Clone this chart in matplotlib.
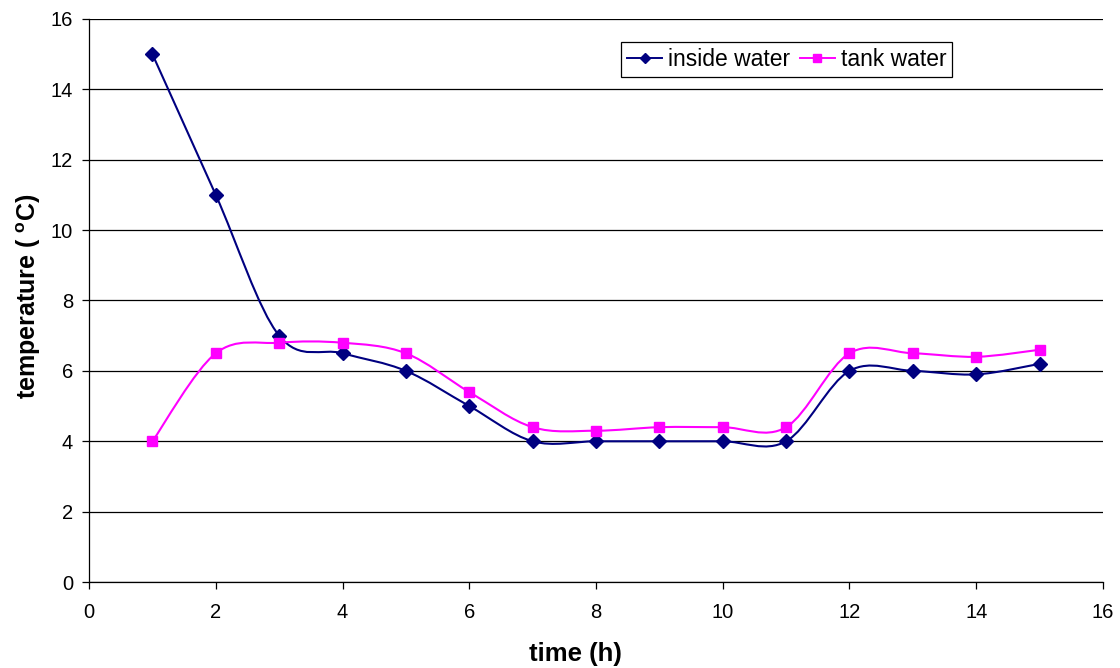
import matplotlib
matplotlib.use('Agg')
import matplotlib.pyplot as plt
from matplotlib.path import Path
from matplotlib.patches import PathPatch
import numpy as np

plt.rcParams['font.family'] = ['Liberation Sans', 'DejaVu Sans']
plt.rcParams['mathtext.fontset'] = 'custom'
plt.rcParams['mathtext.rm'] = 'Liberation Sans'
plt.rcParams['mathtext.bf'] = 'Liberation Sans:bold'

# Data
hours = [1, 2, 3, 4, 5, 6, 7, 8, 9, 10, 11, 12, 13, 14, 15]
inside_water = [15, 11, 7, 6.5, 6, 5, 4, 4, 4, 4, 4, 6, 6, 5.9, 6.2]
tank_water = [4, 6.5, 6.8, 6.8, 6.5, 5.4, 4.4, 4.3, 4.4, 4.4, 4.4, 6.5, 6.5, 6.4, 6.6]


def smooth_path(x, y):
    # Excel-like smoothed line: cubic Bezier segments (Catmull-Rom control points)
    x = np.asarray(x, float)
    y = np.asarray(y, float)
    px = np.concatenate([[x[0]], x, [x[-1]]])
    py = np.concatenate([[y[0]], y, [y[-1]]])
    verts = [(x[0], y[0])]
    codes = [Path.MOVETO]
    for i in range(1, len(px) - 2):
        c1 = (px[i] + (px[i + 1] - px[i - 1]) / 6, py[i] + (py[i + 1] - py[i - 1]) / 6)
        c2 = (px[i + 1] - (px[i + 2] - px[i]) / 6, py[i + 1] - (py[i + 2] - py[i]) / 6)
        verts += [c1, c2, (px[i + 1], py[i + 1])]
        codes += [Path.CURVE4] * 3
    return Path(verts, codes)


fig = plt.figure(figsize=(11.2, 6.68), dpi=100)
ax = fig.add_axes([0.0795, 0.1287, 0.9053, 0.8429])

series = [
    (inside_water, '#000080', 'D', 7, 'inside water'),
    (tank_water, '#FF00FF', 's', 7.5, 'tank water'),
]
for vals, color, marker, ms, label in series:
    ax.add_patch(PathPatch(smooth_path(hours, vals), facecolor='none',
                           edgecolor=color, linewidth=1.5, zorder=3))
    ax.plot(hours, vals, linestyle='none', marker=marker, markersize=ms,
            color=color, zorder=4)
    ax.plot([], [], color=color, marker=marker, markersize=ms - 1.5,
            linewidth=1.4, label=label)

ax.set_xlim(0, 16)
ax.set_ylim(0, 16)
ax.set_xticks(range(0, 17, 2))
ax.set_yticks(range(0, 17, 2))
ax.yaxis.grid(True, color='black', linewidth=0.9)
ax.set_axisbelow(True)
for s in ['top', 'right']:
    ax.spines[s].set_visible(False)
for s in ['left', 'bottom']:
    ax.spines[s].set_color('black')
    ax.spines[s].set_linewidth(0.9)
ax.tick_params(direction='out', length=5, width=0.9, labelsize=14.5, colors='black')
ax.tick_params(axis='x', pad=10)
ax.tick_params(axis='y', pad=6.5)

ax.set_xlabel('time (h)', fontsize=18.5, fontweight='bold')
ax.set_ylabel(r'temperature ( $^{\mathbf{o}}$C)', fontsize=18, fontweight='bold')
ax.xaxis.set_label_coords(0.48, -0.1066)
ax.yaxis.set_label_coords(-0.0454, 0.508)

leg = ax.legend(loc='upper right', bbox_to_anchor=(0.851, 0.959), ncol=2, fontsize=16.5,
                frameon=True, fancybox=False, edgecolor='black', framealpha=1,
                handlelength=1.53, handletextpad=0.26, columnspacing=0.4,
                borderpad=0.25, borderaxespad=0)
leg.get_frame().set_linewidth(0.9)

fig.savefig('out.png', dpi=100)
